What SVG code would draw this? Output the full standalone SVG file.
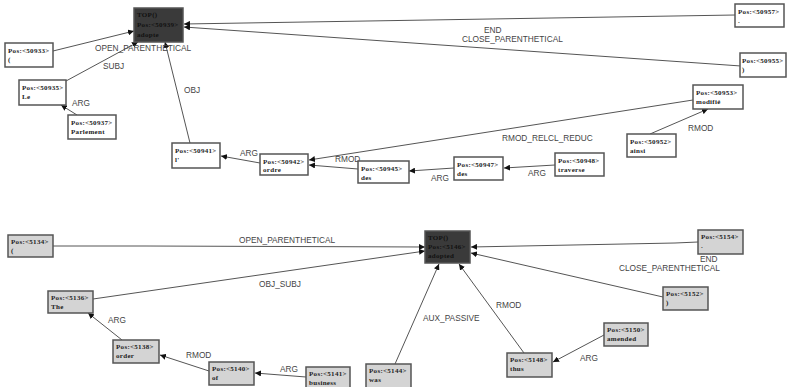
<svg xmlns="http://www.w3.org/2000/svg" width="788" height="387" viewBox="0 0 788 387">
<style>
.n rect{fill:#fff;stroke:#555;stroke-width:1.5}
.g rect{fill:#d4d4d4;stroke:#555;stroke-width:1.5}
.t rect{fill:#3a3a3a;stroke:#555;stroke-width:1.5}
.n text,.g text,.t text{font-family:"Liberation Serif",serif;font-weight:bold;font-size:7px;letter-spacing:0.3px;fill:#222}
.t text{fill:#111}
#edges line,#edges polyline{stroke:#555;stroke-width:1;fill:none;marker-end:url(#ah)}
.lb{font-family:"Liberation Sans",Arial,sans-serif;font-size:8.3px;fill:#444}
</style>
<defs>
<marker id="ah" viewBox="0 0 10 10" refX="10" refY="5" markerWidth="6" markerHeight="6" markerUnits="userSpaceOnUse" orient="auto">
<path d="M0,0 L10,5 L0,10 z" fill="#111"/>
</marker>
</defs>
<rect width="788" height="387" fill="#fff"/>
<g id="edges">
<!-- top graph -->
<line x1="53" y1="51" x2="134" y2="31"/>
<line x1="66" y1="81" x2="138" y2="42"/>
<line x1="77" y1="115" x2="61" y2="105"/>
<line x1="190" y1="143" x2="165" y2="42"/>
<line x1="735" y1="15" x2="184" y2="24"/>
<line x1="741" y1="66" x2="184" y2="27"/>
<line x1="650" y1="134" x2="708" y2="109"/>
<line x1="693" y1="100" x2="309" y2="160"/>
<line x1="358" y1="169" x2="309" y2="165"/>
<line x1="260" y1="163" x2="221" y2="156"/>
<line x1="454" y1="168" x2="409" y2="171"/>
<line x1="555" y1="165" x2="504" y2="168"/>
<!-- bottom graph -->
<polyline points="53,246 145,246 425,247"/>
<line x1="93" y1="299" x2="425" y2="251"/>
<line x1="122" y1="340" x2="88" y2="313"/>
<line x1="209" y1="371" x2="160" y2="355"/>
<line x1="306" y1="377" x2="255" y2="373"/>
<line x1="395" y1="364" x2="439" y2="264"/>
<line x1="524" y1="353" x2="459" y2="264"/>
<line x1="604" y1="335" x2="553" y2="362"/>
<polyline points="698,242 675,243 471,247"/>
<line x1="663" y1="297" x2="471" y2="253"/>
</g>
<g id="labels">
<text class="lb" x="95" y="51">OPEN_PARENTHETICAL</text>
<text class="lb" x="103" y="69">SUBJ</text>
<text class="lb" x="72" y="106">ARG</text>
<text class="lb" x="184" y="93">OBJ</text>
<text class="lb" x="484" y="33">END</text>
<text class="lb" x="462" y="42">CLOSE_PARENTHETICAL</text>
<text class="lb" x="688" y="131">RMOD</text>
<text class="lb" x="502" y="141">RMOD_RELCL_REDUC</text>
<text class="lb" x="335" y="162">RMOD</text>
<text class="lb" x="240" y="156">ARG</text>
<text class="lb" x="431" y="181">ARG</text>
<text class="lb" x="528" y="176">ARG</text>
<text class="lb" x="239" y="243">OPEN_PARENTHETICAL</text>
<text class="lb" x="259" y="287">OBJ_SUBJ</text>
<text class="lb" x="108" y="323">ARG</text>
<text class="lb" x="186" y="358">RMOD</text>
<text class="lb" x="280" y="372">ARG</text>
<text class="lb" x="423" y="321">AUX_PASSIVE</text>
<text class="lb" x="496" y="308">RMOD</text>
<text class="lb" x="580" y="361">ARG</text>
<text class="lb" x="700" y="262">END</text>
<text class="lb" x="619" y="271">CLOSE_PARENTHETICAL</text>
</g>
<!-- top graph nodes -->
<g id="n50939" class="t"><rect x="134" y="8" width="49" height="34"/><text x="137" y="17">TOP()</text><text x="137" y="27">Pos:&lt;50939&gt;</text><text x="137" y="37">adopte</text></g>
<g id="n50933" class="n"><rect x="5" y="43" width="48" height="24"/><text x="8" y="53">Pos:&lt;50933&gt;</text><text x="8" y="62">(</text></g>
<g id="n50935" class="n"><rect x="19" y="80" width="47" height="25"/><text x="22" y="90">Pos:&lt;50935&gt;</text><text x="22" y="99">Le</text></g>
<g id="n50937" class="n"><rect x="68" y="115" width="48" height="24"/><text x="71" y="125">Pos:&lt;50937&gt;</text><text x="71" y="134">Parlement</text></g>
<g id="n50957" class="n"><rect x="735" y="4" width="49" height="23"/><text x="738" y="14">Pos:&lt;50957&gt;</text><text x="738" y="23">.</text></g>
<g id="n50955" class="n"><rect x="740" y="53" width="46" height="24"/><text x="742" y="63">Pos:&lt;50955&gt;</text><text x="742" y="72">)</text></g>
<g id="n50953" class="n"><rect x="693" y="85" width="50" height="24"/><text x="696" y="95">Pos:&lt;50953&gt;</text><text x="696" y="104">modifié</text></g>
<g id="n50952" class="n"><rect x="627" y="134" width="49" height="23"/><text x="630" y="144">Pos:&lt;50952&gt;</text><text x="630" y="153">ainsi</text></g>
<g id="n50948" class="n"><rect x="555" y="153" width="49" height="23"/><text x="558" y="163">Pos:&lt;50948&gt;</text><text x="558" y="172">traverse</text></g>
<g id="n50947" class="n"><rect x="454" y="157" width="49" height="23"/><text x="457" y="167">Pos:&lt;50947&gt;</text><text x="457" y="176">des</text></g>
<g id="n50945" class="n"><rect x="358" y="161" width="51" height="22"/><text x="361" y="171">Pos:&lt;50945&gt;</text><text x="361" y="180">des</text></g>
<g id="n50942" class="n"><rect x="260" y="154" width="48" height="21"/><text x="263" y="164">Pos:&lt;50942&gt;</text><text x="263" y="172">ordre</text></g>
<g id="n50941" class="n"><rect x="172" y="143" width="48" height="25"/><text x="175" y="153">Pos:&lt;50941&gt;</text><text x="175" y="162">l'</text></g>
<!-- bottom graph nodes -->
<g id="n5146" class="t"><rect x="425" y="231" width="45" height="32"/><text x="428" y="240">TOP()</text><text x="428" y="249">Pos:&lt;5146&gt;</text><text x="428" y="258">adopted</text></g>
<g id="n5134" class="g"><rect x="8" y="235" width="45" height="22"/><text x="11" y="244">Pos:&lt;5134&gt;</text><text x="11" y="253">(</text></g>
<g id="n5136" class="g"><rect x="48" y="291" width="45" height="22"/><text x="51" y="300">Pos:&lt;5136&gt;</text><text x="51" y="309">The</text></g>
<g id="n5138" class="g"><rect x="113" y="340" width="46" height="23"/><text x="116" y="349">Pos:&lt;5138&gt;</text><text x="116" y="358">order</text></g>
<g id="n5140" class="g"><rect x="209" y="362" width="45" height="23"/><text x="212" y="371">Pos:&lt;5140&gt;</text><text x="212" y="380">of</text></g>
<g id="n5141" class="g"><rect x="306" y="367" width="44" height="23"/><text x="309" y="376">Pos:&lt;5141&gt;</text><text x="309" y="385">business</text></g>
<g id="n5144" class="g"><rect x="366" y="364" width="45" height="26"/><text x="369" y="373">Pos:&lt;5144&gt;</text><text x="369" y="382">was</text></g>
<g id="n5148" class="g"><rect x="507" y="353" width="45" height="24"/><text x="510" y="362">Pos:&lt;5148&gt;</text><text x="510" y="371">thus</text></g>
<g id="n5150" class="g"><rect x="604" y="323" width="44" height="23"/><text x="607" y="332">Pos:&lt;5150&gt;</text><text x="607" y="341">amended</text></g>
<g id="n5154" class="g"><rect x="698" y="230" width="45" height="24"/><text x="701" y="239">Pos:&lt;5154&gt;</text><text x="701" y="248">.</text></g>
<g id="n5152" class="g"><rect x="663" y="287" width="45" height="23"/><text x="666" y="296">Pos:&lt;5152&gt;</text><text x="666" y="305">)</text></g>
</svg>
